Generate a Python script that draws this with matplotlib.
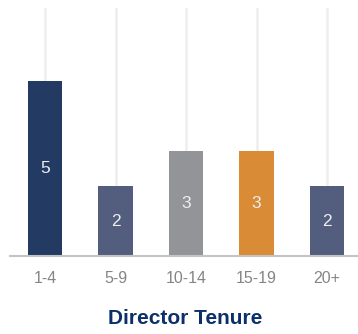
import matplotlib.pyplot as plt

categories = ["1-4", "5-9", "10-14", "15-19", "20+"]
counts = [5, 2, 3, 3, 2]
colors = ["#233a63", "#535d7e", "#929497", "#d98b36", "#535d7e"]

plt.rcParams["font.family"] = ["Liberation Sans", "DejaVu Sans"]

fig = plt.figure(figsize=(3.58, 3.34), dpi=100)
ax = fig.add_axes([10 / 358, 78 / 334, 348 / 358, 248 / 334])

x = range(len(categories))
bars = ax.bar(x, counts, width=0.49, color=colors, zorder=2)
for b, v in zip(bars, counts):
    ax.text(b.get_x() + b.get_width() / 2, v / 2, str(v),
            ha="center", va="center", color="#eeeeee", fontsize=12.5)

ax.set_xlim(-0.5, 4.44)
ax.set_ylim(0, 7.086)
ax.set_xticks(list(x))
ax.set_xticklabels(categories, color="#858585", fontsize=11.5)
ax.tick_params(axis="x", length=0, pad=11)
ax.set_yticks([])
ax.grid(axis="x", color="#eeeeee", linewidth=1.8, zorder=0)
for side in ["top", "left", "right"]:
    ax.spines[side].set_visible(False)
ax.spines["bottom"].set_color("#c4c4c4")
ax.spines["bottom"].set_linewidth(1.5)
ax.spines["bottom"].set_zorder(3)

fig.text(0.518, 0.045, "Director Tenure", ha="center", va="center",
         fontsize=15, fontweight="bold", color="#0b2f6b")

fig.savefig("out.png", dpi=100)
